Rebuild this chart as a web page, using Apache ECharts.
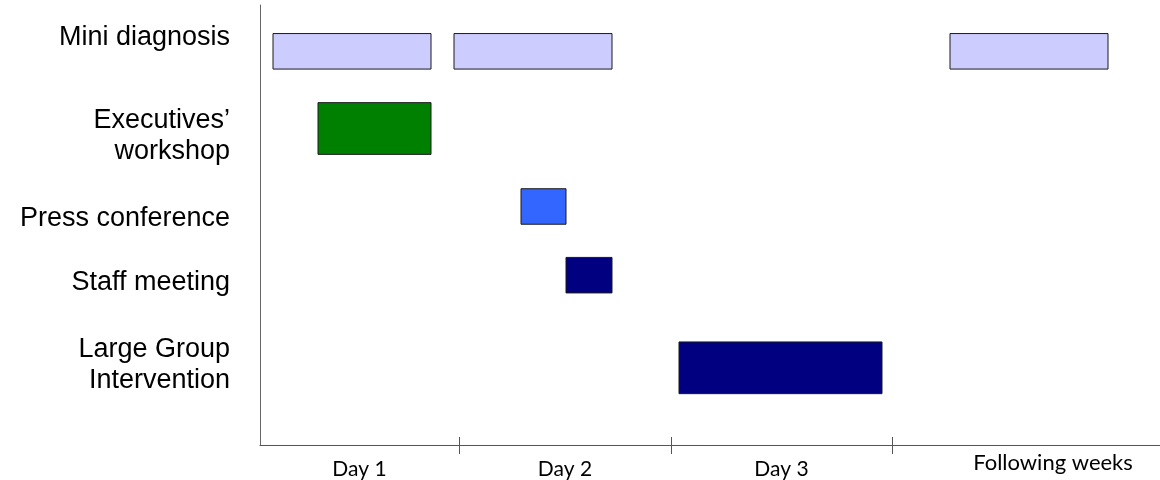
<!DOCTYPE html>
<html>
<head>
<meta charset="utf-8">
<script src="https://cdn.jsdelivr.net/npm/echarts@6/dist/echarts.min.js"></script>
<style>
  html, body { margin: 0; padding: 0; background: #ffffff; }
  #chart { width: 1160px; height: 480px; }
</style>
</head>
<body>
<div id="chart"></div>
<script>
// Activities, one lane each, top to bottom
const activities = ['Mini diagnosis', 'Executives’\nworkshop', 'Press conference', 'Staff meeting', 'Large Group\nIntervention'];
// Timeline: period boundaries (axis units) and the period names
const periodBounds = [0, 19.9, 41.1, 63.2, 95.4];
const periodLabels = ['Day 1', 'Day 2', 'Day 3', 'Following weeks'];
// Scheduled blocks: lane index, start, end
const blockLane  = [0, 0, 0, 1, 2, 3, 4];
const blockStart = [1.3, 19.4, 69.0, 5.8, 26.1, 30.6, 41.9];
const blockEnd   = [17.1, 35.2, 84.8, 17.1, 30.6, 35.2, 62.2];

// Layout: where each lane sits on the vertical scale, and where its caption sits
const laneAt = [0, 1, 2.01, 2.9, 4.1];
const laneCaptionAt = [-0.18, 1.1, 2.16, 2.99, 4.06];
const laneColors = ['#CCCCFF', '#008000', '#3366FF', '#000080', '#000080'];

const blocks = blockLane.map((lane, i) => [lane, blockStart[i], blockEnd[i]]);
const innerTicks = periodBounds.slice(1, periodBounds.length - 1);
const periodMids = periodLabels.map((_, i) => (periodBounds[i] + periodBounds[i + 1]) / 2);

function nearest(list, v) {
  let best = 0;
  list.forEach((m, i) => { if (Math.abs(m - v) < Math.abs(list[best] - v)) best = i; });
  return best;
}

function renderBlock(params, api) {
  const lane = api.value(0);
  const p0 = api.coord([api.value(1), laneAt[lane]]);
  const p1 = api.coord([api.value(2), laneAt[lane]]);
  const unitH = api.size([0, 1])[1];
  const twoLine = activities[lane].indexOf('\n') >= 0;
  const h = unitH * (twoLine ? 0.67 : 0.46);
  return {
    type: 'rect',
    shape: { x: p0[0], y: p0[1] - h / 2, width: p1[0] - p0[0], height: h },
    style: { fill: laneColors[lane], stroke: '#1a1a1a', lineWidth: 1 }
  };
}

const chart = echarts.init(document.getElementById('chart'), null, { renderer: 'canvas' });
chart.setOption({
  animation: false,
  grid: { left: 260, right: 0, top: 5, bottom: 35 },
  xAxis: [
    {
      type: 'value', min: 0, max: 90, position: 'bottom',
      splitLine: { show: false },
      axisLine: { show: true, onZero: false, lineStyle: { color: '#555555', width: 1 } },
      axisTick: { show: true, customValues: innerTicks, length: 9, lineStyle: { color: '#555555' } },
      axisLabel: {
        customValues: periodMids,
        margin: 7,
        formatter: (v) => {
          const i = nearest(periodMids, v);
          return (i === periodLabels.length - 1 ? '{wk|' : '{day|') + periodLabels[i] + '}';
        },
        rich: {
          day: { fontFamily: 'Lato', fontSize: 21, color: '#000000', padding: [7, 0, 0, 0] },
          wk:  { fontFamily: 'Lato', fontSize: 22, color: '#000000' }
        }
      }
    },
    {
      type: 'value', min: 0, max: 90, position: 'bottom',
      splitLine: { show: false },
      axisLine: { show: false, onZero: false },
      axisTick: { show: true, inside: true, customValues: innerTicks, length: 8, lineStyle: { color: '#555555' } },
      axisLabel: { show: false }
    }
  ],
  yAxis: {
    type: 'value', inverse: true, min: -0.6, max: 5.1,
    splitLine: { show: false },
    axisLine: { show: true, onZero: false, lineStyle: { color: '#666666', width: 1 } },
    axisTick: { show: false },
    axisLabel: {
      customValues: laneCaptionAt,
      formatter: (v) => activities[nearest(laneCaptionAt, v)],
      fontFamily: 'Liberation Sans',
      fontSize: 27,
      lineHeight: 31,
      color: '#000000',
      margin: 30,
      align: 'right'
    }
  },
  series: [{
    type: 'custom',
    renderItem: renderBlock,
    encode: { x: [1, 2], y: 0 },
    clip: false,
    data: blocks
  }]
});
</script>
</body>
</html>
